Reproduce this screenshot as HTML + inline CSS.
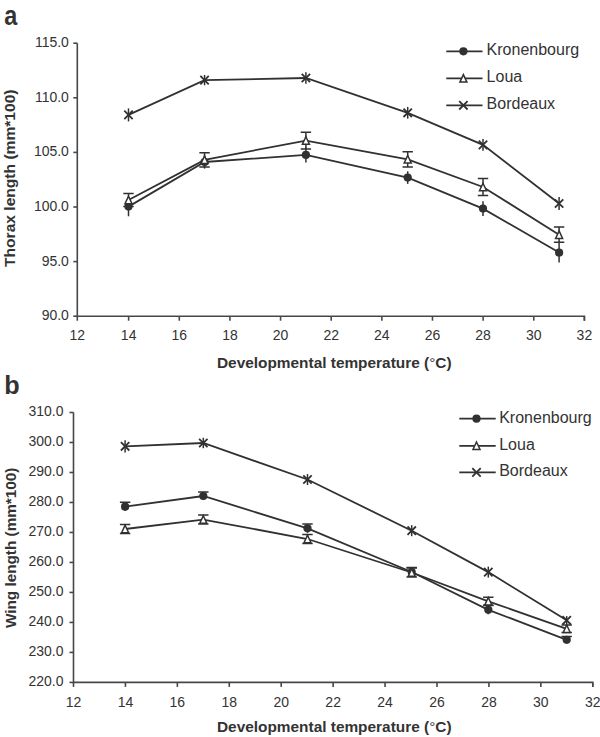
<!DOCTYPE html>
<html><head><meta charset="utf-8"><style>
html,body{margin:0;padding:0;background:#fff;width:600px;height:737px;overflow:hidden}
svg{display:block}
text{font-family:"Liberation Sans",sans-serif;fill:#333333}
</style></head><body>
<svg width="600" height="737" viewBox="0 0 600 737">
<path d="M77.3 43.2V316.2H584.4V320.7" fill="none" stroke="#474747" stroke-width="1.6"/>
<path d="M73.3 43.2H77.3" stroke="#474747" stroke-width="1.6"/>
<text transform="translate(68.9 47.1) scale(1 1.04)" text-anchor="end" font-size="14">115.0</text>
<path d="M73.3 97.8H77.3" stroke="#474747" stroke-width="1.6"/>
<text transform="translate(68.9 101.7) scale(1 1.04)" text-anchor="end" font-size="14">110.0</text>
<path d="M73.3 152.4H77.3" stroke="#474747" stroke-width="1.6"/>
<text transform="translate(68.9 156.3) scale(1 1.04)" text-anchor="end" font-size="14">105.0</text>
<path d="M73.3 207H77.3" stroke="#474747" stroke-width="1.6"/>
<text transform="translate(68.9 210.9) scale(1 1.04)" text-anchor="end" font-size="14">100.0</text>
<path d="M73.3 261.6H77.3" stroke="#474747" stroke-width="1.6"/>
<text transform="translate(68.9 265.5) scale(1 1.04)" text-anchor="end" font-size="14">95.0</text>
<path d="M73.3 316.2H77.3" stroke="#474747" stroke-width="1.6"/>
<text transform="translate(68.9 320.1) scale(1 1.04)" text-anchor="end" font-size="14">90.0</text>
<path d="M77.3 316.2V320.7" stroke="#474747" stroke-width="1.6"/>
<text transform="translate(77.3 340.1) scale(1 1.04)" text-anchor="middle" font-size="14">12</text>
<path d="M128.64 316.2V320.7" stroke="#474747" stroke-width="1.6"/>
<text transform="translate(128.64 340.1) scale(1 1.04)" text-anchor="middle" font-size="14">14</text>
<path d="M179.28 316.2V320.7" stroke="#474747" stroke-width="1.6"/>
<text transform="translate(179.28 340.1) scale(1 1.04)" text-anchor="middle" font-size="14">16</text>
<path d="M229.92 316.2V320.7" stroke="#474747" stroke-width="1.6"/>
<text transform="translate(229.92 340.1) scale(1 1.04)" text-anchor="middle" font-size="14">18</text>
<path d="M280.56 316.2V320.7" stroke="#474747" stroke-width="1.6"/>
<text transform="translate(280.56 340.1) scale(1 1.04)" text-anchor="middle" font-size="14">20</text>
<path d="M331.2 316.2V320.7" stroke="#474747" stroke-width="1.6"/>
<text transform="translate(331.2 340.1) scale(1 1.04)" text-anchor="middle" font-size="14">22</text>
<path d="M381.84 316.2V320.7" stroke="#474747" stroke-width="1.6"/>
<text transform="translate(381.84 340.1) scale(1 1.04)" text-anchor="middle" font-size="14">24</text>
<path d="M432.48 316.2V320.7" stroke="#474747" stroke-width="1.6"/>
<text transform="translate(432.48 340.1) scale(1 1.04)" text-anchor="middle" font-size="14">26</text>
<path d="M483.12 316.2V320.7" stroke="#474747" stroke-width="1.6"/>
<text transform="translate(483.12 340.1) scale(1 1.04)" text-anchor="middle" font-size="14">28</text>
<path d="M533.76 316.2V320.7" stroke="#474747" stroke-width="1.6"/>
<text transform="translate(533.76 340.1) scale(1 1.04)" text-anchor="middle" font-size="14">30</text>
<path d="M584.4 316.2V320.7" stroke="#474747" stroke-width="1.6"/>
<text transform="translate(584.4 340.1) scale(1 1.04)" text-anchor="middle" font-size="14">32</text>
<path d="M128.5 196.9V216.3" stroke="#313131" stroke-width="1.5" fill="none"/>
<path d="M204.55 155.4V168.6" stroke="#313131" stroke-width="1.5" fill="none"/>
<path d="M305.9 147.2V162.6" stroke="#313131" stroke-width="1.5" fill="none"/>
<path d="M407.7 171.3V183.9" stroke="#313131" stroke-width="1.5" fill="none"/>
<path d="M483 201.2V216" stroke="#313131" stroke-width="1.5" fill="none"/>
<path d="M559.1 242.5V262.5" stroke="#313131" stroke-width="1.5" fill="none"/>
<polyline points="128.5,206.6 204.55,162 305.9,154.9 407.7,177.6 483,208.6 559.1,252.5" fill="none" stroke="#313131" stroke-width="1.8"/>
<circle cx="128.5" cy="206.6" r="4.1" fill="#313131"/>
<circle cx="204.55" cy="162" r="4.1" fill="#313131"/>
<circle cx="305.9" cy="154.9" r="4.1" fill="#313131"/>
<circle cx="407.7" cy="177.6" r="4.1" fill="#313131"/>
<circle cx="483" cy="208.6" r="4.1" fill="#313131"/>
<circle cx="559.1" cy="252.5" r="4.1" fill="#313131"/>
<path d="M128.5 193.4V206.6M123.3 193.4H133.7M123.3 206.6H133.7" stroke="#313131" stroke-width="1.5" fill="none"/>
<path d="M204.55 152.7V167M199.35 152.7H209.75M199.35 167H209.75" stroke="#313131" stroke-width="1.5" fill="none"/>
<path d="M305.9 132.3V148.9M300.7 132.3H311.1M300.7 148.9H311.1" stroke="#313131" stroke-width="1.5" fill="none"/>
<path d="M407.7 151.7V166.9M402.5 151.7H412.9M402.5 166.9H412.9" stroke="#313131" stroke-width="1.5" fill="none"/>
<path d="M483 178.5V195.5M477.8 178.5H488.2M477.8 195.5H488.2" stroke="#313131" stroke-width="1.5" fill="none"/>
<path d="M559.1 227.1V242.3M553.9 227.1H564.3M553.9 242.3H564.3" stroke="#313131" stroke-width="1.5" fill="none"/>
<polyline points="128.5,200 204.55,159.85 305.9,140.6 407.7,159.3 483,187 559.1,234.7" fill="none" stroke="#313131" stroke-width="1.8"/>
<path d="M128.5 196.2L132 203.7H125Z" fill="#fff" stroke="#313131" stroke-width="1.5" stroke-linejoin="miter"/>
<path d="M204.55 156.05L208.05 163.55H201.05Z" fill="#fff" stroke="#313131" stroke-width="1.5" stroke-linejoin="miter"/>
<path d="M305.9 136.8L309.4 144.3H302.4Z" fill="#fff" stroke="#313131" stroke-width="1.5" stroke-linejoin="miter"/>
<path d="M407.7 155.5L411.2 163H404.2Z" fill="#fff" stroke="#313131" stroke-width="1.5" stroke-linejoin="miter"/>
<path d="M483 183.2L486.5 190.7H479.5Z" fill="#fff" stroke="#313131" stroke-width="1.5" stroke-linejoin="miter"/>
<path d="M559.1 230.9L562.6 238.4H555.6Z" fill="#fff" stroke="#313131" stroke-width="1.5" stroke-linejoin="miter"/>
<path d="M128.5 108.4V121.4" stroke="#313131" stroke-width="1.5" fill="none"/>
<path d="M204.55 74.95V85.25" stroke="#313131" stroke-width="1.5" fill="none"/>
<path d="M305.9 72.3V83.7" stroke="#313131" stroke-width="1.5" fill="none"/>
<path d="M407.7 106.95V118.65" stroke="#313131" stroke-width="1.5" fill="none"/>
<path d="M483 139V150.7" stroke="#313131" stroke-width="1.5" fill="none"/>
<path d="M559.1 197.1V209.9" stroke="#313131" stroke-width="1.5" fill="none"/>
<polyline points="128.5,114.9 204.55,80.1 305.9,78 407.7,112.8 483,144.85 559.1,203.5" fill="none" stroke="#313131" stroke-width="1.8"/>
<path d="M124.3 110.7L132.7 119.1M132.7 110.7L124.3 119.1" stroke="#313131" stroke-width="1.8"/>
<path d="M200.35 75.9L208.75 84.3M208.75 75.9L200.35 84.3" stroke="#313131" stroke-width="1.8"/>
<path d="M301.7 73.8L310.1 82.2M310.1 73.8L301.7 82.2" stroke="#313131" stroke-width="1.8"/>
<path d="M403.5 108.6L411.9 117M411.9 108.6L403.5 117" stroke="#313131" stroke-width="1.8"/>
<path d="M478.8 140.65L487.2 149.05M487.2 140.65L478.8 149.05" stroke="#313131" stroke-width="1.8"/>
<path d="M554.9 199.3L563.3 207.7M563.3 199.3L554.9 207.7" stroke="#313131" stroke-width="1.8"/>
<path d="M446.3 51.3H482.5" stroke="#313131" stroke-width="1.8"/>
<circle cx="463.4" cy="51.3" r="4.1" fill="#313131"/>
<text x="486.6" y="55" font-size="16">Kronenbourg</text>
<path d="M446.3 78.4H482.5" stroke="#313131" stroke-width="1.8"/>
<path d="M463.4 74.6L466.9 82.1H459.9Z" fill="#fff" stroke="#313131" stroke-width="1.5" stroke-linejoin="miter"/>
<text x="486.6" y="82.1" font-size="16">Loua</text>
<path d="M446.3 105.3H482.5" stroke="#313131" stroke-width="1.8"/>
<path d="M459.2 101.1L467.6 109.5M467.6 101.1L459.2 109.5" stroke="#313131" stroke-width="1.8"/>
<text x="486.6" y="109" font-size="16">Bordeaux</text>
<path d="M73.5 412.5V682.4H592.78V686.9" fill="none" stroke="#474747" stroke-width="1.6"/>
<path d="M69.5 412.5H73.5" stroke="#474747" stroke-width="1.6"/>
<text transform="translate(63.5 416.1) scale(1 1.04)" text-anchor="end" font-size="14">310.0</text>
<path d="M69.5 442.49H73.5" stroke="#474747" stroke-width="1.6"/>
<text transform="translate(63.5 446.09) scale(1 1.04)" text-anchor="end" font-size="14">300.0</text>
<path d="M69.5 472.48H73.5" stroke="#474747" stroke-width="1.6"/>
<text transform="translate(63.5 476.08) scale(1 1.04)" text-anchor="end" font-size="14">290.0</text>
<path d="M69.5 502.47H73.5" stroke="#474747" stroke-width="1.6"/>
<text transform="translate(63.5 506.07) scale(1 1.04)" text-anchor="end" font-size="14">280.0</text>
<path d="M69.5 532.46H73.5" stroke="#474747" stroke-width="1.6"/>
<text transform="translate(63.5 536.06) scale(1 1.04)" text-anchor="end" font-size="14">270.0</text>
<path d="M69.5 562.45H73.5" stroke="#474747" stroke-width="1.6"/>
<text transform="translate(63.5 566.05) scale(1 1.04)" text-anchor="end" font-size="14">260.0</text>
<path d="M69.5 592.44H73.5" stroke="#474747" stroke-width="1.6"/>
<text transform="translate(63.5 596.04) scale(1 1.04)" text-anchor="end" font-size="14">250.0</text>
<path d="M69.5 622.43H73.5" stroke="#474747" stroke-width="1.6"/>
<text transform="translate(63.5 626.03) scale(1 1.04)" text-anchor="end" font-size="14">240.0</text>
<path d="M69.5 652.42H73.5" stroke="#474747" stroke-width="1.6"/>
<text transform="translate(63.5 656.02) scale(1 1.04)" text-anchor="end" font-size="14">230.0</text>
<path d="M69.5 682.41H73.5" stroke="#474747" stroke-width="1.6"/>
<text transform="translate(63.5 686.01) scale(1 1.04)" text-anchor="end" font-size="14">220.0</text>
<path d="M73.5 682.4V686.9" stroke="#474747" stroke-width="1.6"/>
<text transform="translate(73.5 706.9) scale(1 1.04)" text-anchor="middle" font-size="14">12</text>
<path d="M125.43 682.4V686.9" stroke="#474747" stroke-width="1.6"/>
<text transform="translate(125.43 706.9) scale(1 1.04)" text-anchor="middle" font-size="14">14</text>
<path d="M177.36 682.4V686.9" stroke="#474747" stroke-width="1.6"/>
<text transform="translate(177.36 706.9) scale(1 1.04)" text-anchor="middle" font-size="14">16</text>
<path d="M229.28 682.4V686.9" stroke="#474747" stroke-width="1.6"/>
<text transform="translate(229.28 706.9) scale(1 1.04)" text-anchor="middle" font-size="14">18</text>
<path d="M281.21 682.4V686.9" stroke="#474747" stroke-width="1.6"/>
<text transform="translate(281.21 706.9) scale(1 1.04)" text-anchor="middle" font-size="14">20</text>
<path d="M333.14 682.4V686.9" stroke="#474747" stroke-width="1.6"/>
<text transform="translate(333.14 706.9) scale(1 1.04)" text-anchor="middle" font-size="14">22</text>
<path d="M385.07 682.4V686.9" stroke="#474747" stroke-width="1.6"/>
<text transform="translate(385.07 706.9) scale(1 1.04)" text-anchor="middle" font-size="14">24</text>
<path d="M437 682.4V686.9" stroke="#474747" stroke-width="1.6"/>
<text transform="translate(437 706.9) scale(1 1.04)" text-anchor="middle" font-size="14">26</text>
<path d="M488.92 682.4V686.9" stroke="#474747" stroke-width="1.6"/>
<text transform="translate(488.92 706.9) scale(1 1.04)" text-anchor="middle" font-size="14">28</text>
<path d="M540.85 682.4V686.9" stroke="#474747" stroke-width="1.6"/>
<text transform="translate(540.85 706.9) scale(1 1.04)" text-anchor="middle" font-size="14">30</text>
<path d="M592.78 682.4V686.9" stroke="#474747" stroke-width="1.6"/>
<text transform="translate(592.78 706.9) scale(1 1.04)" text-anchor="middle" font-size="14">32</text>
<path d="M125.1 502.3V511.1M119.9 502.3H130.3" stroke="#313131" stroke-width="1.5" fill="none"/>
<path d="M203.3 491.9V500.1M198.1 491.9H208.5" stroke="#313131" stroke-width="1.5" fill="none"/>
<path d="M307.5 523.9V532.7M302.3 523.9H312.7" stroke="#313131" stroke-width="1.5" fill="none"/>
<path d="M411.7 567.6V576.4M406.5 567.6H416.9" stroke="#313131" stroke-width="1.5" fill="none"/>
<path d="M488.3 605.4V614.2M483.1 605.4H493.5" stroke="#313131" stroke-width="1.5" fill="none"/>
<path d="M566.7 636.6V643M561.5 636.6H571.9" stroke="#313131" stroke-width="1.5" fill="none"/>
<polyline points="125.1,506.7 203.3,496 307.5,528.3 411.7,572 488.3,609.8 566.7,639.8" fill="none" stroke="#313131" stroke-width="1.8"/>
<circle cx="125.1" cy="506.7" r="4.1" fill="#313131"/>
<circle cx="203.3" cy="496" r="4.1" fill="#313131"/>
<circle cx="307.5" cy="528.3" r="4.1" fill="#313131"/>
<circle cx="411.7" cy="572" r="4.1" fill="#313131"/>
<circle cx="488.3" cy="609.8" r="4.1" fill="#313131"/>
<circle cx="566.7" cy="639.8" r="4.1" fill="#313131"/>
<path d="M125.1 524.5V533.5M119.9 524.5H130.3M119.9 533.5H130.3" stroke="#313131" stroke-width="1.5" fill="none"/>
<path d="M203.3 515.1V524.1M198.1 515.1H208.5M198.1 524.1H208.5" stroke="#313131" stroke-width="1.5" fill="none"/>
<path d="M307.5 534.5V543.5M302.3 534.5H312.7M302.3 543.5H312.7" stroke="#313131" stroke-width="1.5" fill="none"/>
<path d="M411.7 568V577M406.5 568H416.9M406.5 577H416.9" stroke="#313131" stroke-width="1.5" fill="none"/>
<path d="M488.3 597.3V605.3M483.1 597.3H493.5M483.1 605.3H493.5" stroke="#313131" stroke-width="1.5" fill="none"/>
<path d="M566.7 625V632.6M561.5 625H571.9M561.5 632.6H571.9" stroke="#313131" stroke-width="1.5" fill="none"/>
<polyline points="125.1,529 203.3,519.6 307.5,539 411.7,572.5 488.3,601.3 566.7,628.8" fill="none" stroke="#313131" stroke-width="1.8"/>
<path d="M125.1 525.2L128.6 532.7H121.6Z" fill="#fff" stroke="#313131" stroke-width="1.5" stroke-linejoin="miter"/>
<path d="M203.3 515.8L206.8 523.3H199.8Z" fill="#fff" stroke="#313131" stroke-width="1.5" stroke-linejoin="miter"/>
<path d="M307.5 535.2L311 542.7H304Z" fill="#fff" stroke="#313131" stroke-width="1.5" stroke-linejoin="miter"/>
<path d="M411.7 568.7L415.2 576.2H408.2Z" fill="#fff" stroke="#313131" stroke-width="1.5" stroke-linejoin="miter"/>
<path d="M488.3 597.5L491.8 605H484.8Z" fill="#fff" stroke="#313131" stroke-width="1.5" stroke-linejoin="miter"/>
<path d="M566.7 625L570.2 632.5H563.2Z" fill="#fff" stroke="#313131" stroke-width="1.5" stroke-linejoin="miter"/>
<path d="M125.1 440.2V452.4" stroke="#313131" stroke-width="1.5" fill="none"/>
<path d="M203.3 437.8V448.2" stroke="#313131" stroke-width="1.5" fill="none"/>
<path d="M307.5 474V485" stroke="#313131" stroke-width="1.5" fill="none"/>
<path d="M411.7 525.2V536.2" stroke="#313131" stroke-width="1.5" fill="none"/>
<path d="M488.3 566.6V577.6" stroke="#313131" stroke-width="1.5" fill="none"/>
<path d="M566.7 616.1V624.5" stroke="#313131" stroke-width="1.5" fill="none"/>
<polyline points="125.1,446.3 203.3,443 307.5,479.5 411.7,530.7 488.3,572.1 566.7,620.3" fill="none" stroke="#313131" stroke-width="1.8"/>
<path d="M120.9 442.1L129.3 450.5M129.3 442.1L120.9 450.5" stroke="#313131" stroke-width="1.8"/>
<path d="M199.1 438.8L207.5 447.2M207.5 438.8L199.1 447.2" stroke="#313131" stroke-width="1.8"/>
<path d="M303.3 475.3L311.7 483.7M311.7 475.3L303.3 483.7" stroke="#313131" stroke-width="1.8"/>
<path d="M407.5 526.5L415.9 534.9M415.9 526.5L407.5 534.9" stroke="#313131" stroke-width="1.8"/>
<path d="M484.1 567.9L492.5 576.3M492.5 567.9L484.1 576.3" stroke="#313131" stroke-width="1.8"/>
<path d="M562.5 616.1L570.9 624.5M570.9 616.1L562.5 624.5" stroke="#313131" stroke-width="1.8"/>
<path d="M459.3 418.7H495.7" stroke="#313131" stroke-width="1.8"/>
<circle cx="476.5" cy="418.7" r="4.1" fill="#313131"/>
<text x="499.2" y="422.5" font-size="16">Kronenbourg</text>
<path d="M459.3 445.8H495.7" stroke="#313131" stroke-width="1.8"/>
<path d="M476.5 442L480 449.5H473Z" fill="#fff" stroke="#313131" stroke-width="1.5" stroke-linejoin="miter"/>
<text x="499.2" y="449.6" font-size="16">Loua</text>
<path d="M459.3 472.4H495.7" stroke="#313131" stroke-width="1.8"/>
<path d="M472.3 468.2L480.7 476.6M480.7 468.2L472.3 476.6" stroke="#313131" stroke-width="1.8"/>
<text x="499.2" y="476.2" font-size="16">Bordeaux</text>
<text transform="translate(4.2 25) scale(0.9 1.03)" font-size="26" font-weight="bold">a</text>
<text transform="translate(4.2 394.2) scale(0.97 0.98)" font-size="26" font-weight="bold">b</text>
<text transform="translate(14.8 267) rotate(-90) scale(1 0.95)" font-size="15.6" font-weight="bold">Thorax length (mm*100)</text>
<text transform="translate(16 628) rotate(-90) scale(1 0.95)" font-size="15.3" font-weight="bold">Wing length (mm*100)</text>
<text x="217" y="368" font-size="15.4" font-weight="bold">Developmental temperature (<tspan font-weight="normal">°</tspan>C)</text>
<text x="217" y="731.6" font-size="15.4" font-weight="bold">Developmental temperature (<tspan font-weight="normal">°</tspan>C)</text>
</svg>
</body></html>
